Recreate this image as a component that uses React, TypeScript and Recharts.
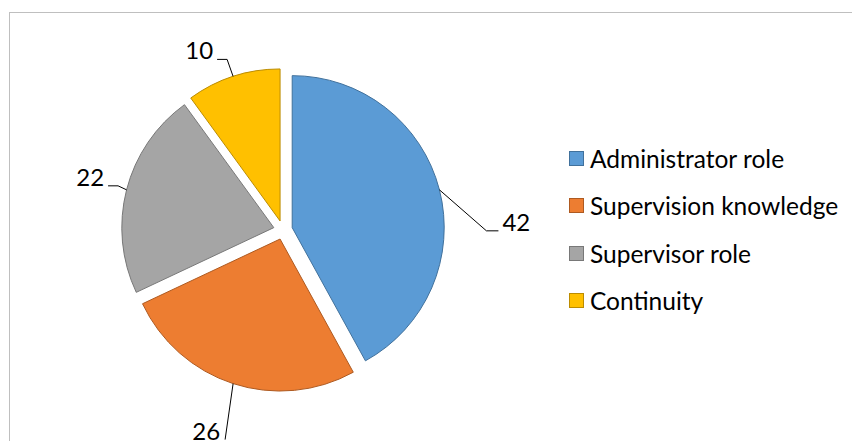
import React from 'react';
import { PieChart, Pie, Cell, Sector, Legend } from 'recharts';

const categories = ['Administrator role', 'Supervision knowledge', 'Supervisor role', 'Continuity'];
const counts = [42, 26, 22, 10];

const fills = ['#5B9BD5', '#ED7D31', '#A5A5A5', '#FFC000'];
const strokes = ['#41719C', '#AE5A21', '#787878', '#BC8C00'];

const RAD = Math.PI / 180;
const EXPLODE = 9.5;
const FONT = 'Lato, "Noto Sans", sans-serif';

// leader line tweaks per slice: elbow offset from arc midpoint, tail length
const leaders = [
  { ex: 47, ey: 41, tail: 12 },
  { ex: -8, ey: 56, tail: 0 },
  { ex: -8.5, ey: -4, tail: -10 },
  { ex: -6, ey: -17, tail: -10 },
];

const chartData = categories.map((name, i) => ({ name, value: counts[i] }));

function ExplodedSector(props: any) {
  const { cx, cy, midAngle } = props;
  const dx = EXPLODE * Math.cos(midAngle * RAD);
  const dy = -EXPLODE * Math.sin(midAngle * RAD);
  return <Sector {...props} cx={cx + dx} cy={cy + dy} />;
}

function renderLabel(props: any) {
  const { cx, cy, midAngle, outerRadius, index, value } = props;
  const r = outerRadius + EXPLODE;
  const ax = cx + r * Math.cos(midAngle * RAD);
  const ay = cy - r * Math.sin(midAngle * RAD);
  const l = leaders[index];
  const bx = ax + l.ex;
  const by = ay + l.ey;
  const tx = bx + l.tail;
  const right = l.ex > 0;
  const textX = l.tail === 0 ? tx + (right ? 5 : -5) : tx + (right ? 4 : -4);
  return (
    <g>
      <polyline
        points={`${ax},${ay} ${bx},${by} ${tx},${by}`}
        fill="none"
        stroke="#000"
        strokeWidth={1}
      />
      <text
        x={textX}
        y={by}
        textAnchor={right ? 'start' : 'end'}
        fontFamily={FONT}
        fontSize={24}
        fill="#000"
      >
        {value}
      </text>
    </g>
  );
}

function LegendList() {
  return (
    <div style={{ fontFamily: FONT, fontSize: 24.5, color: '#000' }}>
      {categories.map((name, i) => (
        <div key={name} style={{ display: 'flex', alignItems: 'center', height: 47.3 }}>
          <span
            style={{
              width: 13,
              height: 13,
              background: fills[i],
              border: `1px solid ${strokes[i]}`,
              marginRight: 6,
              display: 'inline-block',
              flexShrink: 0,
            }}
          />
          <span style={{ whiteSpace: 'nowrap' }}>{name}</span>
        </div>
      ))}
    </div>
  );
}

export default function App() {
  return (
    <div style={{ position: 'absolute', left: 0, top: 0, width: 852, height: 441, overflow: 'hidden', background: '#fff' }}>
      <div
        style={{
          position: 'absolute',
          left: 9,
          top: 12,
          width: 900,
          height: 500,
          border: '1px solid #BFBFBF',
        }}
      />
      <div style={{ position: 'absolute', left: 0, top: 0 }}>
        <PieChart width={852} height={441} margin={{ top: 0, right: 0, bottom: 0, left: 0 }}>
          <Pie
            data={chartData}
            dataKey="value"
            nameKey="name"
            cx={283}
            cy={230}
            outerRadius={152}
            startAngle={90}
            endAngle={-270}
            shape={ExplodedSector}
            label={renderLabel}
            labelLine={false}
            isAnimationActive={false}
          >
            {chartData.map((d, i) => (
              <Cell key={d.name} fill={fills[i]} stroke={strokes[i]} strokeWidth={1} />
            ))}
          </Pie>
          <Legend
            layout="vertical"
            verticalAlign="top"
            align="right"
            wrapperStyle={{ left: 569, right: 'auto', top: 134.85, width: 280 }}
            content={() => <LegendList />}
          />
        </PieChart>
      </div>
    </div>
  );
}
